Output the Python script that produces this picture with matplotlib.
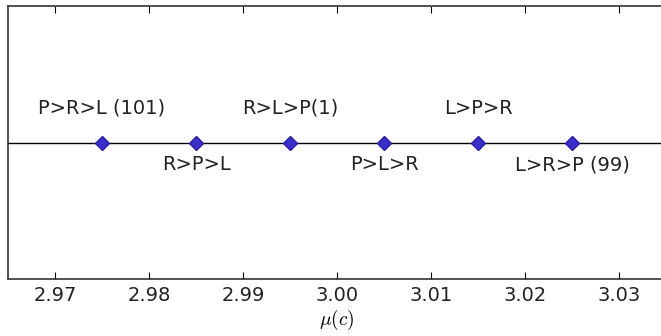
import matplotlib
matplotlib.use("Agg")
import matplotlib.pyplot as plt

plt.rcParams["mathtext.fontset"] = "cm"

# orderings and their mu(c) positions
mu = [2.975, 2.985, 2.995, 3.005, 3.015, 3.025]
labels = ["P>R>L (101)", "R>P>L", "R>L>P(1)", "P>L>R", "L>P>R", "L>R>P (99)"]
above = [True, False, True, False, True, False]
ticks = [2.97, 2.98, 2.99, 3.00, 3.01, 3.02, 3.03]

fig = plt.figure(figsize=(6.61, 3.36), dpi=100)
# right spine sits just outside the canvas in the reference
ax = fig.add_axes([8 / 661, 1 - 279 / 336, 658 / 661, 273 / 336])

ax.axhline(0, color="black", lw=1.0, zorder=1)
ax.plot(mu, [0] * len(mu), linestyle="none", marker="D", markersize=7,
        color="#3b2fc9", markeredgecolor="#2a20a8", zorder=3)

for x, lab, up in zip(mu, labels, above):
    if up:
        ax.text(x, 0.18, lab, ha="center", va="bottom", fontsize=14, color="#222222")
    else:
        ax.text(x, -0.095, lab, ha="center", va="top", fontsize=14, color="#222222")

ax.set_xlim(2.965, 3.035)
ax.set_ylim(-1, 1)
ax.set_xticks(ticks)
ax.set_xticklabels([f"{t:.2f}" for t in ticks], fontsize=14, color="#222222")
ax.set_yticks([])
ax.tick_params(axis="x", direction="in", top=True, length=5, pad=5)
for s in ax.spines.values():
    s.set_color("#333333")
    s.set_linewidth(1.2)
ax.set_xlabel(r"$\mu(c)$", fontsize=14, labelpad=2)

fig.savefig("out.png", dpi=100)
